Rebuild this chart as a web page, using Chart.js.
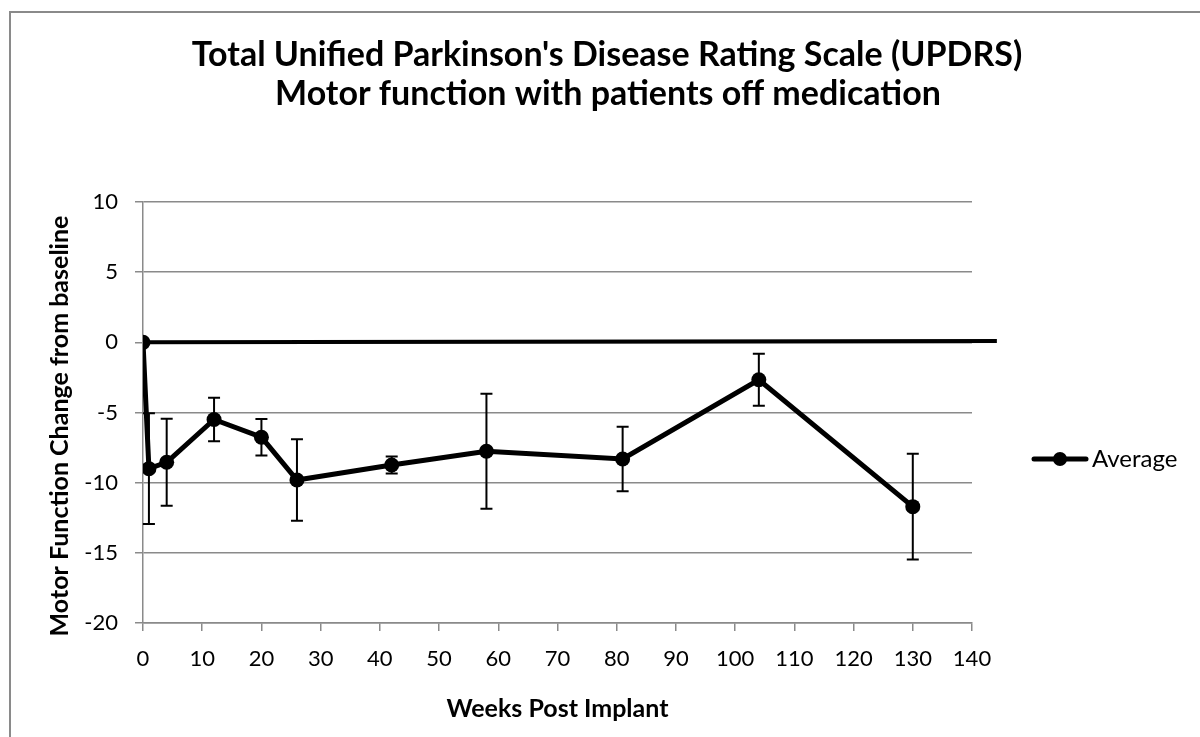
<!DOCTYPE html>
<html>
<head>
<meta charset="utf-8">
<script src="https://cdn.jsdelivr.net/npm/chart.js@4/dist/chart.umd.min.js"></script>
<style>
  html, body { margin: 0; padding: 0; background: #fff; }
  #chart { display: block; }
</style>
</head>
<body>
<canvas id="chart" width="1200" height="737"></canvas>
<script>
// Chart data
const titleLines = ["Total Unified Parkinson's Disease Rating Scale (UPDRS)", "Motor function with patients off medication"];
const yTitle = 'Motor Function Change from baseline';
const xTitle = 'Weeks Post Implant';
const weeks = [0, 1, 4, 12, 20, 26, 42, 58, 81, 104, 130];
const average = [0, -9.0, -8.55, -5.5, -6.76, -9.81, -8.74, -7.76, -8.31, -2.67, -11.71];
const errorBars = [0, 3.95, 3.1, 1.55, 1.3, 2.9, 0.6, 4.1, 2.3, 1.85, 3.77];
const baselineX = [0, 144.2];
const baselineY = [0, 0.1];
const seriesName = 'Average';

const gray = '#8a8a8a';
const font = 'Lato';

// Draws the error bars, the title, the y title, the border and the legend
const extras = {
    id: 'extras',
    afterDatasetsDraw(chart) {
        const ctx = chart.ctx;
        const xs = chart.scales.x;
        const ys = chart.scales.y;
        ctx.save();
        ctx.strokeStyle = '#000';
        ctx.lineWidth = 2;
        for (let i = 0; i < weeks.length; i++) {
            if (!errorBars[i]) continue;
            const px = xs.getPixelForValue(weeks[i]);
            const top = ys.getPixelForValue(average[i] + errorBars[i]);
            const bot = ys.getPixelForValue(average[i] - errorBars[i]);
            ctx.beginPath();
            ctx.moveTo(px, top); ctx.lineTo(px, bot);
            ctx.moveTo(px - 6, top); ctx.lineTo(px + 6, top);
            ctx.moveTo(px - 6, bot); ctx.lineTo(px + 6, bot);
            ctx.stroke();
        }
        ctx.restore();
    },
    afterDraw(chart) {
        const ctx = chart.ctx;
        ctx.save();
        // outer border (only top and left visible)
        ctx.strokeStyle = gray;
        ctx.lineWidth = 2;
        ctx.beginPath();
        ctx.moveTo(10, 740); ctx.lineTo(10, 12); ctx.lineTo(1205, 12);
        ctx.stroke();

        // title
        ctx.fillStyle = '#000';
        ctx.font = 'bold 34px ' + font;
        ctx.textAlign = 'center';
        ctx.textBaseline = 'alphabetic';
        ctx.fillText(titleLines[0], 607, 66);
        ctx.fillText(titleLines[1], 608, 105);

        // y axis title
        ctx.save();
        ctx.translate(68, 426);
        ctx.rotate(-Math.PI / 2);
        ctx.font = 'bold 25px ' + font;
        ctx.fillText(yTitle, 0, 0);
        ctx.restore();

        // legend
        const ly = 459;
        ctx.strokeStyle = '#000';
        ctx.lineWidth = 5;
        ctx.lineCap = 'round';
        ctx.beginPath();
        ctx.moveTo(1034, ly); ctx.lineTo(1086, ly);
        ctx.stroke();
        ctx.beginPath();
        ctx.arc(1060, ly, 7, 0, Math.PI * 2);
        ctx.fill();
        ctx.font = '24px ' + font;
        ctx.textAlign = 'left';
        ctx.textBaseline = 'middle';
        ctx.fillText(seriesName, 1092, ly);
        ctx.restore();
    }
};

new Chart(document.getElementById('chart'), {
    type: 'scatter',
    data: {
        datasets: [{
            label: seriesName,
            data: weeks.map((w, i) => ({ x: w, y: average[i] })),
            showLine: true,
            borderColor: '#000',
            backgroundColor: '#000',
            borderWidth: 5,
            pointRadius: 7.5,
            pointHoverRadius: 7.5,
            pointBorderWidth: 0,
            order: 1
        }, {
            label: 'baseline',
            data: baselineX.map((x, i) => ({ x: x, y: baselineY[i] })),
            showLine: true,
            borderColor: '#000',
            borderWidth: 4,
            pointRadius: 0,
            clip: false,
            order: 2
        }]
    },
    options: {
        responsive: false,
        animation: false,
        layout: { padding: { top: 202, left: 0, right: 228, bottom: 0 } },
        plugins: {
            legend: { display: false },
            title: { display: false },
            tooltip: { enabled: false }
        },
        scales: {
            x: {
                type: 'linear',
                min: 0,
                max: 140,
                ticks: { stepSize: 10, color: '#000', font: { family: font, size: 22 }, padding: 15, maxRotation: 0 },
                grid: { drawOnChartArea: false, drawTicks: true, tickLength: 8, color: gray, lineWidth: 1.5 },
                border: { color: gray, width: 1.5 },
                title: { display: true, text: xTitle, color: '#000', font: { family: font, size: 25, weight: 'bold' }, padding: { top: 0, bottom: 13 } },
                afterFit(scale) { scale.height = 114; }
            },
            y: {
                min: -20,
                max: 10,
                ticks: { stepSize: 5, color: '#000', font: { family: font, size: 22 }, padding: 17 },
                grid: { color: gray, lineWidth: 1.5, tickLength: 8 },
                border: { color: gray, width: 1.5 },
                afterFit(scale) { scale.width = 143; }
            }
        }
    },
    plugins: [extras]
});
</script>
</body>
</html>
